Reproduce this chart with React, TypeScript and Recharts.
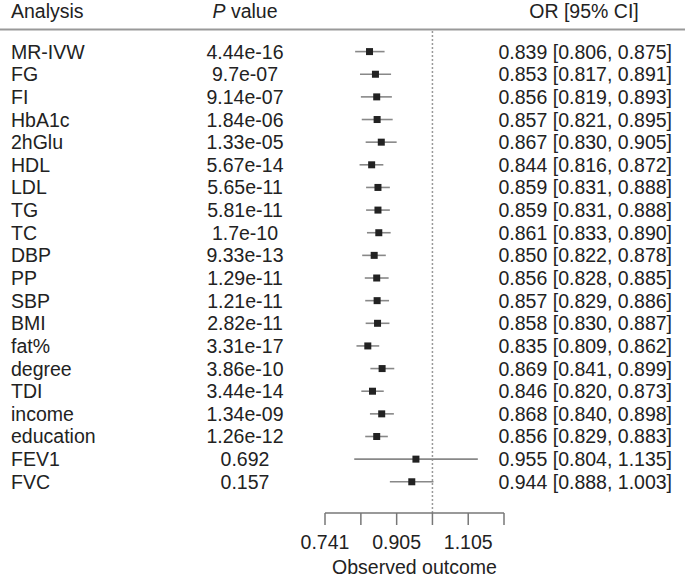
import {
  ComposedChart,
  Scatter,
  ErrorBar,
  XAxis,
  YAxis,
  ReferenceLine,
  Customized
} from 'recharts';

const analyses = [
  'MR-IVW', 'FG', 'FI', 'HbA1c', '2hGlu', 'HDL', 'LDL', 'TG', 'TC', 'DBP',
  'PP', 'SBP', 'BMI', 'fat%', 'degree', 'TDI', 'income', 'education', 'FEV1', 'FVC'
];
const pValues = [
  '4.44e-16', '9.7e-07', '9.14e-07', '1.84e-06', '1.33e-05', '5.67e-14', '5.65e-11',
  '5.81e-11', '1.7e-10', '9.33e-13', '1.29e-11', '1.21e-11', '2.82e-11', '3.31e-17',
  '3.86e-10', '3.44e-14', '1.34e-09', '1.26e-12', '0.692', '0.157'
];
const oddsRatio = [
  0.839, 0.853, 0.856, 0.857, 0.867, 0.844, 0.859, 0.859, 0.861, 0.850,
  0.856, 0.857, 0.858, 0.835, 0.869, 0.846, 0.868, 0.856, 0.955, 0.944
];
const ciLow = [
  0.806, 0.817, 0.819, 0.821, 0.830, 0.816, 0.831, 0.831, 0.833, 0.822,
  0.828, 0.829, 0.830, 0.809, 0.841, 0.820, 0.840, 0.829, 0.804, 0.888
];
const ciHigh = [
  0.875, 0.891, 0.893, 0.895, 0.905, 0.872, 0.888, 0.888, 0.890, 0.878,
  0.885, 0.886, 0.887, 0.862, 0.899, 0.873, 0.898, 0.883, 1.135, 1.003
];
const xTicks = [0.741, 0.819, 0.905, 1, 1.105, 1.221];
const xTickLabels = ['0.741', '', '0.905', '', '1.105', ''];

const rows = analyses.map((name, i) => ({
  name,
  row: i,
  or: oddsRatio[i],
  err: [oddsRatio[i] - ciLow[i], ciHigh[i] - oddsRatio[i]]
}));
const rowTicks = rows.map(r => r.row);

const FONT = 19.5;
const INK = '#222';

function LeftTick(props: any) {
  const i = props.payload.value;
  return (
    <g>
      <text x={11} y={props.y} fontSize={FONT} fill={INK} dominantBaseline="central">{analyses[i]}</text>
      <text x={245} y={props.y} fontSize={FONT} fill={INK} textAnchor="middle" dominantBaseline="central">{pValues[i]}</text>
    </g>
  );
}

function RightTick(props: any) {
  const i = props.payload.value;
  const label = `${oddsRatio[i].toFixed(3)} [${ciLow[i].toFixed(3)}, ${ciHigh[i].toFixed(3)}]`;
  return (
    <text x={672} y={props.y} fontSize={FONT} fill={INK} textAnchor="end" dominantBaseline="central">{label}</text>
  );
}

function Header() {
  return (
    <g>
      <text x={11} y={11} fontSize={FONT} fill={INK} dominantBaseline="central">Analysis</text>
      <text x={245} y={11} fontSize={FONT} fill={INK} textAnchor="middle" dominantBaseline="central">
        <tspan fontStyle="italic">P</tspan> value
      </text>
      <text x={584} y={11} fontSize={FONT} fill={INK} textAnchor="middle" dominantBaseline="central">OR [95% CI]</text>
      <line x1={0} x2={685} y1={29.5} y2={29.5} stroke="#999" strokeWidth={2} />
    </g>
  );
}

const Square = (props: any) => (
  <rect x={props.cx - 3.5} y={props.cy - 3.5} width={7} height={7} fill={INK} />
);

export default function App() {
  return (
    <div style={{ position: 'absolute', left: 0, top: 0, fontFamily: '"Liberation Sans", Arial, sans-serif' }}>
      <ComposedChart width={685} height={578} data={rows} margin={{ top: 30, right: 0, bottom: 0, left: 0 }}>
        <XAxis
          type="number"
          dataKey="or"
          scale="log"
          domain={[0.741, 1.221]}
          ticks={xTicks}
          interval={0}
          allowDataOverflow
          tickFormatter={(v: number) => xTickLabels[xTicks.indexOf(v)] ?? ''}
          tickSize={12}
          tickMargin={10}
          height={65}
          stroke="#777"
          strokeWidth={1.5}
          tick={{ fontSize: FONT, fill: INK }}
          label={{ value: 'Observed outcome', position: 'insideBottom', offset: 4, fontSize: FONT, fill: INK }}
        />
        <YAxis
          yAxisId="left"
          type="number"
          dataKey="row"
          domain={[-0.954, 20.379]}
          reversed
          ticks={rowTicks}
          interval={0}
          width={325}
          axisLine={false}
          tickLine={false}
          tick={<LeftTick />}
        />
        <YAxis
          yAxisId="right"
          orientation="right"
          type="number"
          dataKey="row"
          domain={[-0.954, 20.379]}
          reversed
          ticks={rowTicks}
          interval={0}
          width={181}
          axisLine={false}
          tickLine={false}
          tick={<RightTick />}
        />
        <ReferenceLine yAxisId="left" x={1} stroke="#999" strokeWidth={1.5} strokeDasharray="2 2" />
        <Scatter yAxisId="left" dataKey="row" data={rows} shape={Square} isAnimationActive={false}>
          <ErrorBar dataKey="err" direction="x" width={0} stroke="#888" strokeWidth={1.6} isAnimationActive={false} />
        </Scatter>
        <Customized component={Header} />
      </ComposedChart>
    </div>
  );
}
